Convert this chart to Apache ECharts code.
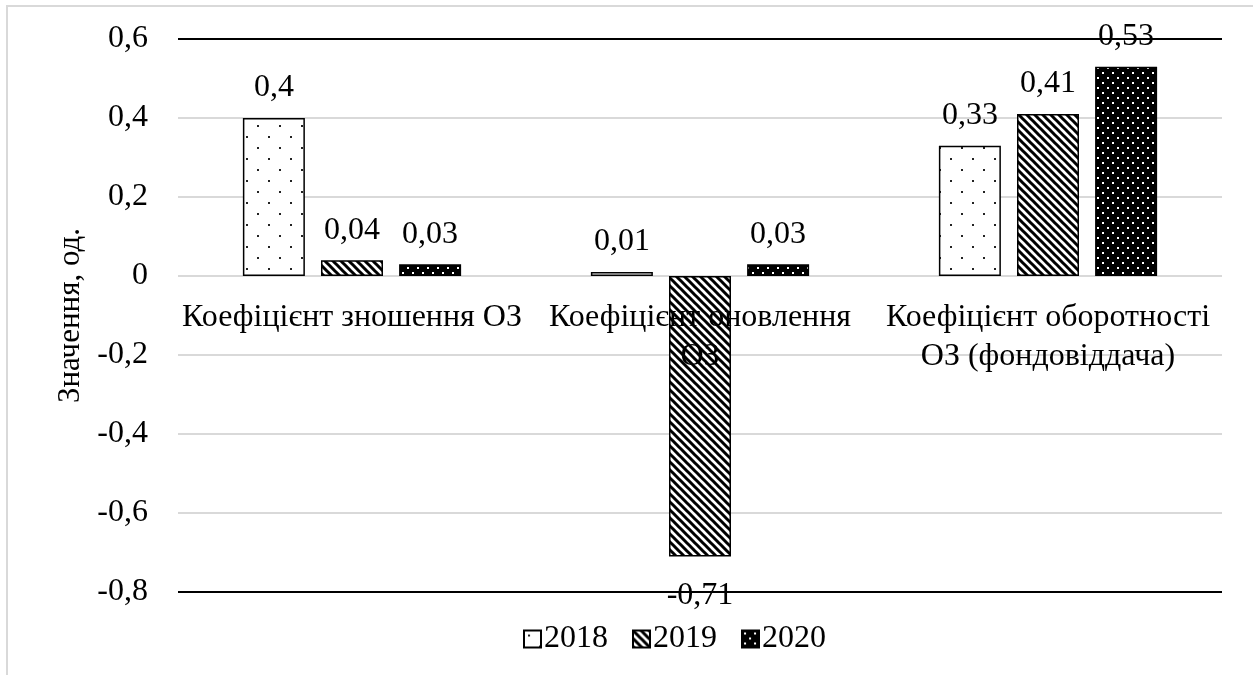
<!DOCTYPE html>
<html>
<head>
<meta charset="utf-8">
<script src="https://cdn.jsdelivr.net/npm/echarts@6/dist/echarts.min.js"></script>
<style>
  html, body { margin: 0; padding: 0; background: #fff; }
  #chart { width: 1253px; height: 675px; }
</style>
</head>
<body>
<div id="chart"></div>
<script>
// Indicators of fixed assets (ОЗ) by year
const categories = [
  'Коефіцієнт зношення ОЗ',
  'Коефіцієнт оновлення ОЗ',
  'Коефіцієнт оборотності ОЗ (фондовіддача)'
];
const years = ['2018', '2019', '2020'];
const values2018 = [0.4, 0.01, 0.33];
const values2019 = [0.04, -0.71, 0.41];
const values2020 = [0.03, 0.03, 0.53];
const yTicks = { min: -0.8, max: 0.6, step: 0.2 };
const axisTitle = 'Значення, од.';

const FONT = '"Liberation Serif", "Times New Roman", serif';
const FS = 32;

// Fill patterns drawn on small tiles
function tile(w, h, draw) {
  const c = document.createElement('canvas');
  c.width = w; c.height = h;
  draw(c.getContext('2d'));
  return { image: c, repeat: 'repeat' };
}
const dotsLight = tile(22, 22, ctx => {
  ctx.fillStyle = '#fff'; ctx.fillRect(0, 0, 22, 22);
  ctx.fillStyle = '#222';
  ctx.fillRect(4, 4, 2, 2);
  ctx.fillRect(15, 15, 2, 2);
});
const stripes = tile(8, 8, ctx => {
  ctx.fillStyle = '#fff'; ctx.fillRect(0, 0, 8, 8);
  ctx.strokeStyle = '#000'; ctx.lineWidth = 3;
  ctx.beginPath();
  ctx.moveTo(-8, -8); ctx.lineTo(16, 16);
  ctx.moveTo(-8, 0); ctx.lineTo(8, 16);
  ctx.moveTo(0, -8); ctx.lineTo(16, 8);
  ctx.stroke();
});
const dotsDark = tile(10, 10, ctx => {
  ctx.fillStyle = '#000'; ctx.fillRect(0, 0, 10, 10);
  ctx.fillStyle = '#fff';
  ctx.fillRect(2, 2, 2, 2);
  ctx.fillRect(7, 7, 2, 2);
});

const fmt = v => (v === 0 ? '0' : String(v).replace('.', ','));

function seriesData(values) {
  return values.map(v => ({
    value: v,
    label: v < 0 ? { position: 'bottom', distance: 23 } : { position: 'top', distance: 14 }
  }));
}

function barSeries(name, values, fill) {
  return {
    name: name,
    type: 'bar',
    barWidth: 62,
    barGap: '26%',
    data: seriesData(values),
    itemStyle: { color: fill, borderColor: '#000', borderWidth: 1.5 },
    label: {
      show: true,
      fontFamily: FONT,
      fontSize: FS,
      color: '#000',
      formatter: p => fmt(p.value)
    }
  };
}

// Outer grid lines black, inner ones light grey (the zero line doubles as the category axis)
const nLines = Math.round((yTicks.max - yTicks.min) / yTicks.step) + 1;
const splitColors = [];
for (let i = 0; i < nLines; i++) {
  splitColors.push(i === 0 || i === nLines - 1 ? '#000' : '#d9d9d9');
}

const chart = echarts.init(document.getElementById('chart'), null, { renderer: 'canvas' });
chart.setOption({
  backgroundColor: '#fff',
  animation: false,
  graphic: [{
    type: 'rect',
    shape: { x: 7, y: 6, width: 1300, height: 700 },
    style: { fill: 'none', stroke: '#d9d9d9', lineWidth: 2 },
    silent: true,
    z: -1
  }],
  grid: { left: 178, right: 31, top: 39, bottom: 83 },
  legend: {
    top: 623,
    left: 523,
    padding: 0,
    icon: 'rect',
    itemWidth: 17,
    itemHeight: 17,
    itemGap: 24,
    textStyle: { fontFamily: FONT, fontSize: FS, color: '#000', padding: [0, 0, 0, -2] },
    data: years
  },
  xAxis: {
    type: 'category',
    data: categories,
    z: 5,
    axisLine: { show: false, onZero: false },
    axisTick: { show: false },
    axisLabel: {
      interval: 0,
      margin: 16,
      fontFamily: FONT,
      fontSize: FS,
      lineHeight: 39,
      color: '#000',
      formatter: (v, i) => (i === 0 ? v : v.replace(' ОЗ', '\nОЗ'))
    }
  },
  yAxis: {
    type: 'value',
    min: yTicks.min,
    max: yTicks.max,
    interval: yTicks.step,
    name: axisTitle,
    nameLocation: 'middle',
    nameGap: 76,
    nameTextStyle: { fontFamily: FONT, fontSize: 31, color: '#000' },
    axisLine: { show: false },
    axisTick: { show: false },
    axisLabel: {
      margin: 30,
      fontFamily: FONT,
      fontSize: FS,
      color: '#000',
      formatter: v => (Math.abs(v) < 1e-9 ? '0' : v.toFixed(1).replace('.', ','))
    },
    splitLine: { lineStyle: { color: splitColors, width: 2 } }
  },
  series: [
    barSeries(years[0], values2018, dotsLight),
    barSeries(years[1], values2019, stripes),
    barSeries(years[2], values2020, dotsDark)
  ]
});

// Lift the category labels up to the zero level of the value scale
const zeroY = chart.convertToPixel({ yAxisIndex: 0 }, 0);
const baseY = chart.convertToPixel({ yAxisIndex: 0 }, yTicks.min);
chart.setOption({ xAxis: { offset: zeroY - baseY } });
</script>
</body>
</html>
